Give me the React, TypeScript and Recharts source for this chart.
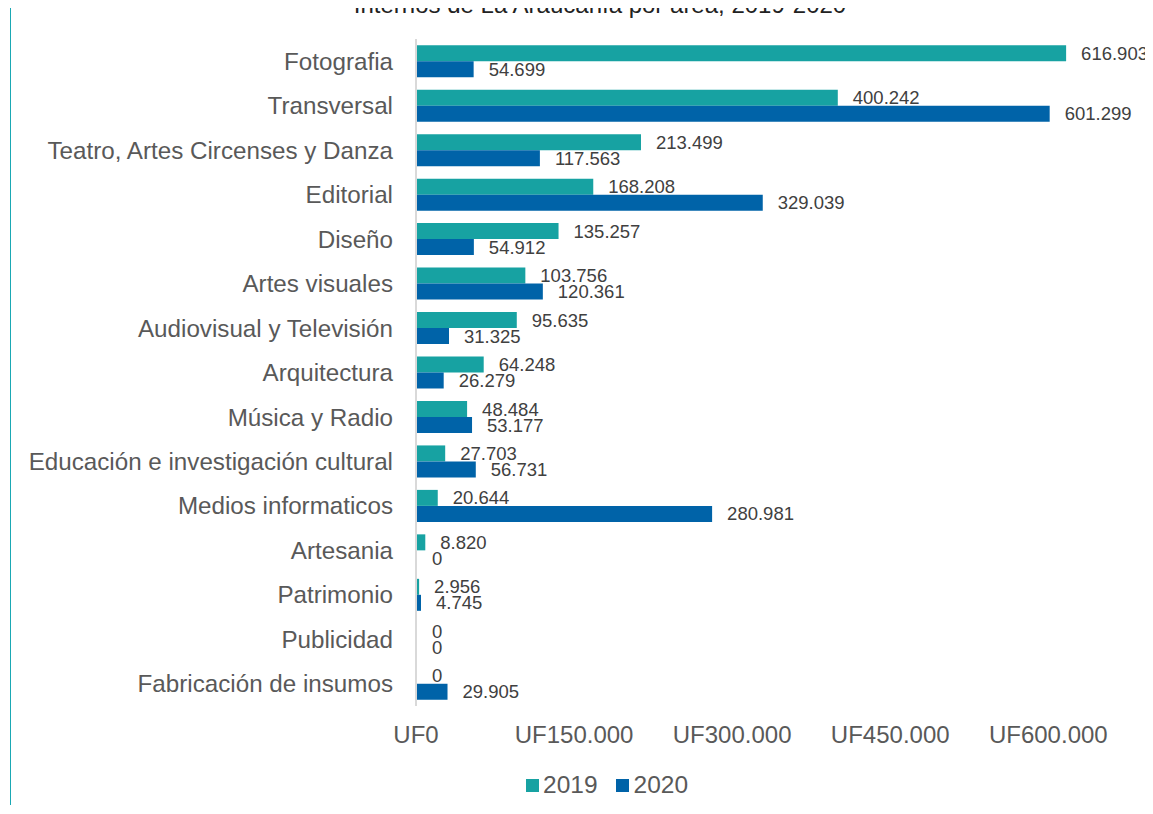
import { BarChart, Bar, XAxis, YAxis, LabelList, Cell } from 'recharts';

const categories = [
  'Fotografia',
  'Transversal',
  'Teatro, Artes Circenses y Danza',
  'Editorial',
  'Diseño',
  'Artes visuales',
  'Audiovisual y Televisión',
  'Arquitectura',
  'Música y Radio',
  'Educación e investigación cultural',
  'Medios informaticos',
  'Artesania',
  'Patrimonio',
  'Publicidad',
  'Fabricación de insumos',
];

const values2019 = [616903, 400242, 213499, 168208, 135257, 103756, 95635, 64248, 48484, 27703, 20644, 8820, 2956, 0, 0];
const values2020 = [54699, 601299, 117563, 329039, 54912, 120361, 31325, 26279, 53177, 56731, 280981, 0, 4745, 0, 29905];

const xTicks = [0, 150000, 300000, 450000, 600000];

const TEAL = '#17a2a2';
const BLUE = '#0063a8';

// dots as thousand separators, like the original
const fmt = (v: number) => String(Math.round(v)).replace(/\B(?=(\d{3})+(?!\d))/g, '.');

const data = categories.map((name, i) => ({
  name,
  y2019: values2019[i],
  y2020: values2020[i],
}));

const labelStyle = { fill: '#404040', fontSize: 18.5 };

export default function App() {
  return (
    <div style={{ position: 'relative', margin: -8, width: 1153, height: 814, overflow: 'hidden', background: '#fff', fontFamily: '"Liberation Sans", Arial, sans-serif' }}>
      <div style={{ position: 'absolute', left: 10, top: 8, width: 0, height: 797, borderLeft: '1.5px solid #1aa8b4' }} />
      {/* title sits mostly above the top edge, as in the cropped original */}
      <div style={{ position: 'absolute', zIndex: 2, left: 0, width: 1200, top: -7, textAlign: 'center', fontSize: 24, color: '#222', lineHeight: '24px', whiteSpace: 'nowrap' }}>
        Internos de La Araucanía por área, 2019-2020
      </div>
      <BarChart
        width={1153}
        height={814}
        data={data}
        layout="vertical"
        margin={{ top: 39, right: 52, bottom: 48, left: 0 }}
        barCategoryGap="14%"
        barGap={0}
        style={{ overflow: 'visible' }}
      >
        <XAxis
          type="number"
          domain={[0, 650000]}
          ticks={xTicks}
          tickFormatter={(v: number) => `UF${fmt(v)}`}
          axisLine={false}
          tickLine={false}
          tickMargin={14}
          height={60}
          tick={{ fill: '#595959', fontSize: 24 }}
        />
        <YAxis
          type="category"
          dataKey="name"
          width={416}
          axisLine={{ stroke: '#d9d9d9', strokeWidth: 2 }}
          tickLine={false}
          tickMargin={17}
          interval={0}
          tick={{ fill: '#595959', fontSize: 24.2 }}
        />
        {/* minPointSize keeps the zero bars so their "0" labels still show */}
        <Bar dataKey="y2019" fill={TEAL} minPointSize={1} isAnimationActive={false}>
          {data.map((d, i) => (
            <Cell key={`a-${i}`} fill={d.y2019 === 0 ? 'transparent' : TEAL} />
          ))}
          <LabelList dataKey="y2019" position="right" offset={15} formatter={(v: any) => fmt(Number(v))} style={labelStyle} />
        </Bar>
        <Bar dataKey="y2020" fill={BLUE} minPointSize={1} isAnimationActive={false}>
          {data.map((d, i) => (
            <Cell key={`b-${i}`} fill={d.y2020 === 0 ? 'transparent' : BLUE} />
          ))}
          <LabelList dataKey="y2020" position="right" offset={15} formatter={(v: any) => fmt(Number(v))} style={labelStyle} />
        </Bar>
      </BarChart>
      <div style={{ position: 'absolute', top: 771, left: 526, display: 'flex', alignItems: 'center', fontSize: 24.5, color: '#595959' }}>
        <span style={{ width: 13, height: 13, background: TEAL, marginRight: 4, display: 'inline-block' }} />
        <span style={{ marginRight: 18 }}>2019</span>
        <span style={{ width: 13, height: 13, background: BLUE, marginRight: 5, display: 'inline-block' }} />
        <span>2020</span>
      </div>
    </div>
  );
}
